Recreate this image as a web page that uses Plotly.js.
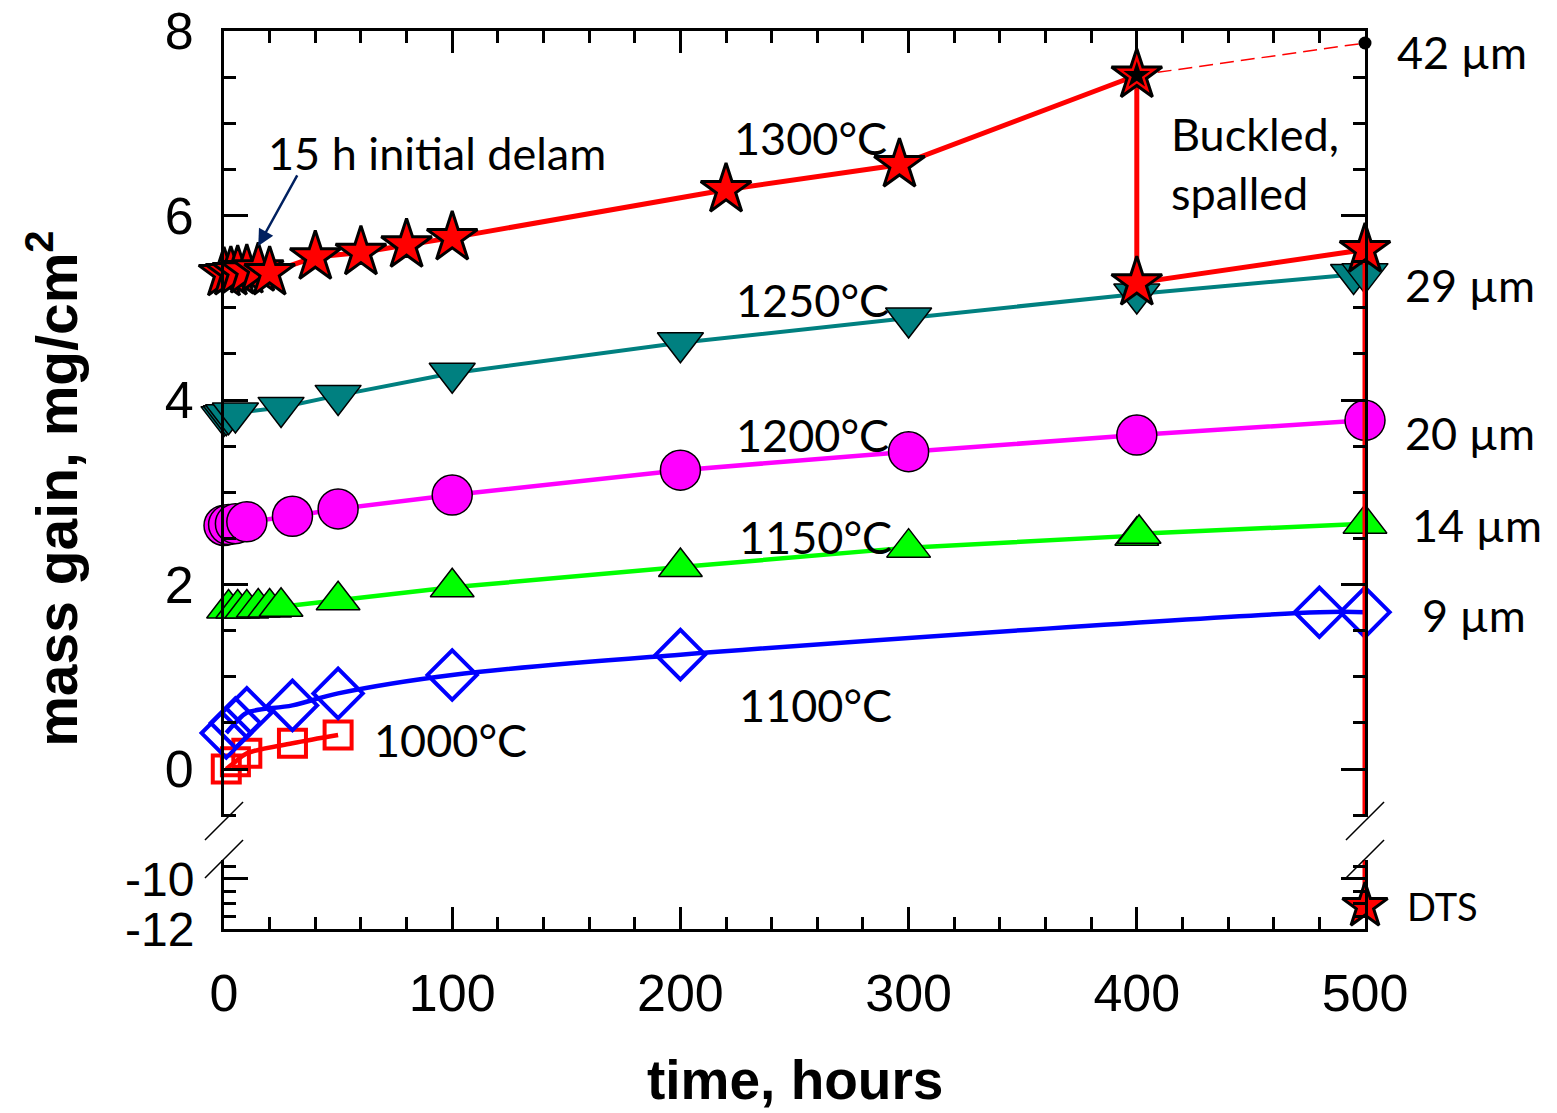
<!DOCTYPE html>
<html>
<head>
<meta charset="utf-8">
<script src="https://cdn.plot.ly/plotly-3.0.1.min.js"></script>
<style>
  html, body { margin: 0; padding: 0; background: #ffffff; }
  #chart { width: 1557px; height: 1113px; }
</style>
</head>
<body>
<div id="chart"></div>
<script>
// ---- data ----
const t1000 = [1, 5, 10, 30, 50];
const m1000 = [0.00, 0.08, 0.17, 0.28, 0.37];

const t1100 = [1, 5, 10, 30, 50, 100, 200, 480, 500];
const m1100 = [0.39, 0.50, 0.61, 0.69, 0.82, 1.02, 1.24, 1.70, 1.70];

const t1150 = [2, 6, 10, 15, 20, 25, 50, 100, 200, 300, 400, 401, 500];
const m1150 = [1.74, 1.74, 1.74, 1.75, 1.75, 1.76, 1.83, 1.97, 2.19, 2.40, 2.53, 2.55, 2.66];

const t1200 = [0, 2, 5, 10, 30, 50, 100, 200, 300, 400, 500];
const m1200 = [2.64, 2.65, 2.66, 2.68, 2.74, 2.82, 2.97, 3.24, 3.44, 3.62, 3.78];

const t1250 = [0, 1, 2, 5, 25, 50, 100, 200, 300, 400, 495, 500];
const m1250 = [3.82, 3.83, 3.84, 3.86, 3.92, 4.05, 4.29, 4.62, 4.89, 5.15, 5.36, 5.37];

const t1300 = [0, 3, 6, 10, 15, 20, 40, 60, 80, 100, 220, 296, 400, 400, 500];
const m1300 = [5.37, 5.38, 5.39, 5.40, 5.42, 5.38, 5.55, 5.60, 5.68, 5.76, 6.28, 6.55, 7.52, 5.27, 5.63];

// extrapolated 42 µm point and the DTS (spalled) point
const tExtrap = [400, 500];
const mExtrap = [7.52, 7.87];
const tDTS = [500];
const mDTS = [-11.08];

// labels
const tempLabels = ['1300°C', '1250°C', '1200°C', '1150°C', '1100°C'];
const thickLabels = ['42 µm', '29 µm', '20 µm', '14 µm', '9 µm'];

const xTicks = [0, 100, 200, 300, 400, 500];
const yTicksUpper = [0, 2, 4, 6, 8];
const yTicksLower = [-10, -12];
const yTicksLowerText = ['-10', '-12'];

// ---- label placement (layout only) ----
const tempLabelPos = [[257, 6.84], [258, 5.08], [258, 3.62], [259, 2.51], [259, 0.69]];
const thickLabelPos = [[1.0263, 0.9766], [1.0333, 0.7171], [1.0333, 0.5523], [1.0394, 0.4499], [1.0482, 0.3497]];

// ---- styling ----
const RED = '#ff0000', TEAL = '#008080', MAG = '#ff00ff', GRN = '#00ff00', BLUE = '#0000ff';
const TXT = {family: 'Lato, "Noto Sans", sans-serif', size: 45, color: '#000'};

const traces = [];
// 1000 C
traces.push({x: t1000, y: m1000, xaxis: 'x', yaxis: 'y', mode: 'lines+markers', cliponaxis: false,
  line: {color: RED, width: 4.5, shape: 'spline'},
  marker: {symbol: 'square-open', size: 27, color: RED, line: {width: 4, color: RED}}});
// 1100 C
traces.push({x: t1100, y: m1100, xaxis: 'x', yaxis: 'y', mode: 'lines+markers', cliponaxis: false,
  line: {color: BLUE, width: 4.5, shape: 'spline'},
  marker: {symbol: 'diamond-open', size: 38, color: BLUE, line: {width: 4, color: BLUE}}});
// 1150 C
traces.push({x: t1150, y: m1150, xaxis: 'x', yaxis: 'y', mode: 'lines+markers', cliponaxis: false,
  line: {color: GRN, width: 4.5},
  marker: {symbol: 'triangle-up', size: 38, color: GRN, line: {width: 1.5, color: '#000'}}});
// 1200 C
traces.push({x: t1200, y: m1200, xaxis: 'x', yaxis: 'y', mode: 'lines+markers', cliponaxis: false,
  line: {color: MAG, width: 4.5},
  marker: {symbol: 'circle', size: 40, color: MAG, line: {width: 1.5, color: '#000'}}});
// 1250 C
traces.push({x: t1250, y: m1250, xaxis: 'x', yaxis: 'y', mode: 'lines+markers', cliponaxis: false,
  line: {color: TEAL, width: 4},
  marker: {symbol: 'triangle-down', size: 40, color: TEAL, line: {width: 1.5, color: '#000'}}});
// dashed extrapolation
traces.push({x: tExtrap, y: mExtrap, xaxis: 'x', yaxis: 'y', mode: 'lines', cliponaxis: false,
  line: {color: RED, width: 1.5, dash: '14px,7px'}});
traces.push({x: [tExtrap[1]], y: [mExtrap[1]], xaxis: 'x', yaxis: 'y', mode: 'markers', cliponaxis: false,
  marker: {symbol: 'circle', size: 13, color: '#000'}});
// 1300 C line, including drop to DTS (clipped at the axis break)
traces.push({x: t1300.concat(tDTS), y: m1300.concat(mDTS), xaxis: 'x', yaxis: 'y', mode: 'lines', cliponaxis: true,
  line: {color: RED, width: 5}});
traces.push({x: [t1300[t1300.length - 1]].concat(tDTS), y: [m1300[m1300.length - 1]].concat(mDTS), xaxis: 'x', yaxis: 'y2', mode: 'lines', cliponaxis: true,
  line: {color: RED, width: 5}});
// 1300 C markers
traces.push({x: t1300, y: m1300, xaxis: 'x', yaxis: 'y', mode: 'markers', cliponaxis: false,
  marker: {symbol: 'star', size: 38, color: RED, line: {width: 3, color: '#000'}}});
traces.push({x: [tExtrap[0]], y: [mExtrap[0]], xaxis: 'x', yaxis: 'y', mode: 'markers', cliponaxis: false,
  marker: {symbol: 'star', size: 20, color: '#000', line: {width: 0}}});
traces.push({x: tDTS, y: mDTS, xaxis: 'x', yaxis: 'y2', mode: 'markers', cliponaxis: false,
  marker: {symbol: 'star', size: 34, color: RED, line: {width: 3, color: '#000'}}});
// dummy trace to activate the top mirror x axis
traces.push({x: [0], y: [0], xaxis: 'x2', yaxis: 'y', mode: 'markers', hoverinfo: 'skip',
  marker: {size: 1, color: 'rgba(0,0,0,0)'}, showlegend: false});

const annotations = [];
for (let i = 0; i < tempLabels.length; i++) {
  annotations.push({x: tempLabelPos[i][0], y: tempLabelPos[i][1], xref: 'x', yref: 'y', text: tempLabels[i],
    showarrow: false, font: TXT, xanchor: 'center', yanchor: 'middle'});
}
for (let i = 0; i < thickLabels.length; i++) {
  annotations.push({x: thickLabelPos[i][0], y: thickLabelPos[i][1], xref: 'paper', yref: 'paper', text: thickLabels[i],
    showarrow: false, font: TXT, xanchor: 'left', yanchor: 'middle'});
}
annotations.push({x: 65, y: 0.31, xref: 'x', yref: 'y', text: '1000°C', showarrow: false, font: TXT, xanchor: 'left', yanchor: 'middle'});
annotations.push({x: 18.4, y: 6.68, xref: 'x', yref: 'y', text: '15 h initial delam', showarrow: false, font: TXT, xanchor: 'left', yanchor: 'middle'});
annotations.push({x: 414, y: 6.56, xref: 'x', yref: 'y', text: 'Buckled,<br>spalled', showarrow: false, font: TXT, xanchor: 'left', yanchor: 'middle', align: 'left'});
annotations.push({x: 1.0351, y: 0.0256, xref: 'paper', yref: 'paper', text: 'DTS', showarrow: false,
  font: {family: TXT.family, size: 38, color: '#000'}, xanchor: 'left', yanchor: 'middle'});
// arrow to 15 h point
annotations.push({x: 15, y: 5.67, xref: 'x', yref: 'y', text: ' ', showarrow: true, arrowhead: 2, arrowsize: 1.3,
  arrowwidth: 2.5, arrowcolor: '#002060', ax: 42, ay: -76, axref: 'pixel', ayref: 'pixel'});
// axis titles
annotations.push({x: 0.5, y: -0.168, xref: 'paper', yref: 'paper', text: '<b>time, hours</b>', showarrow: false,
  font: {family: '"Liberation Sans", Arial, sans-serif', size: 55, color: '#000'}, xanchor: 'center', yanchor: 'middle'});
annotations.push({x: -0.15, y: 0.49, xref: 'paper', yref: 'paper', text: '<b>mass gain, mg/cm<sup>2</sup></b>', showarrow: false,
  textangle: -90, font: {family: '"Liberation Sans", Arial, sans-serif', size: 57, color: '#000'}, xanchor: 'center', yanchor: 'middle'});

// axis-break marks
const shapes = [];
const bx = 0.0167, by = 0.0424;
const breakY = [0.0991, 0.0568];
[0, 1].forEach(px => {
  breakY.forEach(yb => {
    shapes.push({type: 'line', xref: 'paper', yref: 'paper', x0: px - bx, y0: yb, x1: px + bx, y1: yb + by,
      line: {color: '#000', width: 1.5}});
  });
});

const TICKFONT = {family: '"Liberation Sans", Arial, sans-serif', size: 52, color: '#000'};
const axisCommon = {showline: true, linecolor: '#000', linewidth: 3, ticks: 'inside', tickcolor: '#000',
  tickwidth: 3, showgrid: false, zeroline: false, tickfont: TICKFONT};

const layout = {
  width: 1557, height: 1113,
  margin: {l: 224, r: 192, t: 31, b: 184, pad: 0},
  paper_bgcolor: '#fff', plot_bgcolor: '#fff',
  showlegend: false,
  xaxis: Object.assign({}, axisCommon, {anchor: 'y2', range: [0, 500], tickvals: xTicks, ticklen: 22,
    minor: {dtick: 20, ticks: 'inside', ticklen: 12, tickwidth: 3, tickcolor: '#000'}, ticklabelstandoff: 17}),
  xaxis2: Object.assign({}, axisCommon, {anchor: 'y', overlaying: 'x', side: 'top', range: [0, 500], tickvals: xTicks,
    ticklen: 22, showticklabels: false,
    minor: {dtick: 20, ticks: 'inside', ticklen: 12, tickwidth: 3, tickcolor: '#000'}}),
  yaxis: Object.assign({}, axisCommon, {anchor: 'x', domain: [0.1247, 1], range: [-0.52, 8], tickvals: yTicksUpper,
    ticklen: 24, mirror: 'ticks', ticklabelstandoff: 17,
    minor: {dtick: 0.5, ticks: 'inside', ticklen: 12, tickwidth: 3, tickcolor: '#000'}}),
  yaxis2: Object.assign({}, axisCommon, {anchor: 'x', domain: [0, 0.0768], range: [-12, -9.25], tickvals: yTicksLower,
    ticktext: yTicksLowerText, ticklen: 24, mirror: 'ticks', ticklabelstandoff: 17,
    tickfont: {family: TICKFONT.family, size: 48, color: '#000'},
    minor: {dtick: 0.5, ticks: 'inside', ticklen: 12, tickwidth: 3, tickcolor: '#000'}}),
  annotations: annotations,
  shapes: shapes
};

Plotly.newPlot('chart', traces, layout, {staticPlot: true});
</script>
</body>
</html>
